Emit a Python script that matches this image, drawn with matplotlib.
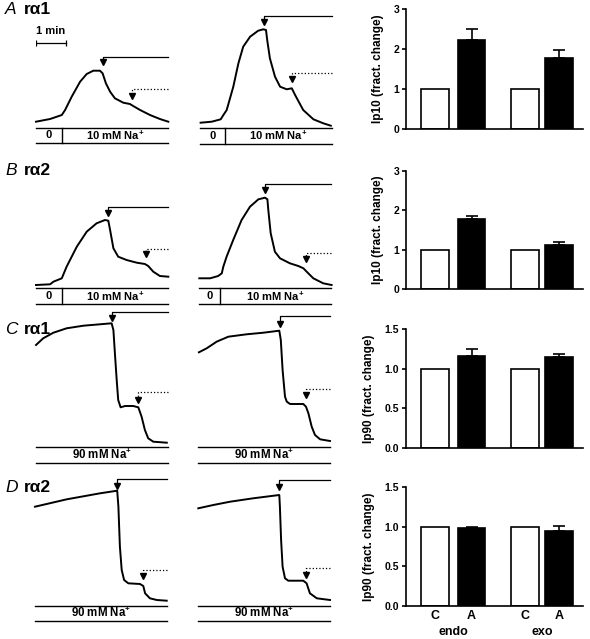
import numpy as np
import matplotlib
matplotlib.use("Agg")
import matplotlib.pyplot as plt

plt.rcParams['font.family'] = ['Liberation Sans', 'DejaVu Sans']
plt.rcParams['mathtext.fontset'] = 'custom'
plt.rcParams['mathtext.rm'] = 'Liberation Sans'
plt.rcParams['mathtext.bf'] = 'Liberation Sans:bold'
plt.rcParams['mathtext.it'] = 'Liberation Sans:italic'

W, H = 590, 639

# ---- traces (time in min, signal in arbitrary units) ----
tA1 = [0, 0.47, 0.86, 0.97, 1.19, 1.47, 1.69, 1.91, 2.13, 2.22, 2.33, 2.47, 2.63, 2.91, 3.13, 3.24, 3.47, 3.80, 4.13, 4.41]
vA1 = [0.60, 0.87, 1.27, 1.77, 3.10, 4.60, 5.37, 5.70, 5.70, 5.44, 4.44, 3.60, 2.94, 2.50, 2.37, 2.17, 1.77, 1.27, 0.87, 0.60]
tA2 = [0.02, 0.39, 0.69, 0.78, 0.89, 1.11, 1.28, 1.44, 1.67, 1.94, 2.11, 2.20, 2.24, 2.33, 2.50, 2.67, 2.89, 3.06, 3.17, 3.44, 3.78, 4.11, 4.36]
vA2 = [0.50, 0.60, 0.84, 1.27, 1.77, 4.10, 6.44, 8.10, 9.10, 9.70, 9.84, 9.77, 8.77, 6.94, 5.10, 4.10, 3.84, 3.94, 3.27, 1.77, 0.84, 0.44, 0.20]
tB1 = [0, 0.47, 0.58, 0.86, 1.02, 1.36, 1.69, 2.02, 2.30, 2.41, 2.47, 2.58, 2.74, 3.02, 3.36, 3.63, 3.74, 3.91, 4.13, 4.41]
vB1 = [0.33, 0.40, 0.66, 1.00, 2.16, 4.16, 5.66, 6.50, 6.83, 6.76, 5.83, 4.00, 3.16, 2.83, 2.56, 2.43, 2.23, 1.66, 1.23, 1.16]
tB2 = [0, 0.36, 0.63, 0.75, 0.80, 0.91, 1.13, 1.41, 1.69, 1.97, 2.19, 2.27, 2.30, 2.38, 2.52, 2.69, 3.02, 3.30, 3.47, 3.58, 3.80, 4.13, 4.41]
vB2 = [1.00, 1.00, 1.23, 1.50, 2.16, 3.16, 4.83, 6.83, 8.16, 8.90, 9.06, 8.90, 7.83, 5.50, 3.66, 3.00, 2.50, 2.23, 2.00, 1.66, 1.00, 0.50, 0.33]
tC1 = [0, 0.24, 0.58, 1.02, 1.58, 2.13, 2.52, 2.58, 2.63, 2.69, 2.74, 2.82, 2.97, 3.24, 3.41, 3.52, 3.63, 3.74, 3.91, 4.36]
vC1 = [10.17, 10.84, 11.40, 11.84, 12.10, 12.24, 12.34, 11.67, 9.34, 6.67, 4.67, 3.94, 4.07, 4.07, 3.94, 3.00, 1.67, 0.84, 0.50, 0.40]
tC2 = [0.02, 0.28, 0.61, 1.00, 1.61, 2.17, 2.70, 2.75, 2.81, 2.89, 2.95, 3.06, 3.50, 3.59, 3.67, 3.78, 3.89, 4.06, 4.39]
vC2 = [9.50, 9.90, 10.56, 11.06, 11.30, 11.46, 11.66, 10.73, 7.73, 5.06, 4.56, 4.33, 4.33, 4.06, 3.40, 2.06, 1.23, 0.80, 0.63]
tD1 = [0, 1.06, 2.17, 2.74, 2.78, 2.83, 2.89, 2.97, 3.11, 3.50, 3.61, 3.67, 3.83, 4.06, 4.39]
vD1 = [9.90, 10.64, 11.24, 11.50, 9.90, 5.90, 3.57, 2.57, 2.24, 2.17, 1.97, 1.24, 0.74, 0.57, 0.50]
tD2 = [0, 0.50, 1.06, 1.83, 2.70, 2.72, 2.76, 2.81, 2.89, 3.00, 3.50, 3.61, 3.72, 3.95, 4.39]
vD2 = [9.74, 10.07, 10.40, 10.74, 11.07, 9.90, 6.57, 3.90, 2.74, 2.50, 2.50, 2.24, 1.24, 0.74, 0.57]

# application times (min): [time, line level, arrow tip] for first (solid) and second (dotted) arrow
arrows1 = [[2.24, 7.07, 6.27], [2.13, 11.2, 10.27], [2.41, 8.16, 7.23], [2.19, 10.43, 9.5],
           [2.53, 13.47, 12.57], [2.72, 13.13, 12.03], [2.74, 12.67, 11.67], [2.70, 12.57, 11.57]]
arrows2 = [[3.2, 3.87, 2.87], [3.06, 5.5, 4.6], [3.67, 3.9, 3.1], [3.56, 3.5, 2.66],
           [3.41, 5.44, 4.4], [3.59, 5.8, 4.9], [3.59, 3.57, 2.64], [3.59, 3.74, 2.74]]
# time of switch from 0 to 10 mM Na+ (None: 90 mM throughout)
switch = [0.87, 0.83, 0.86, 0.69, None, None, None, None]

traces = [(tA1, vA1), (tA2, vA2), (tB1, vB1), (tB2, vB2), (tC1, vC1), (tC2, vC2), (tD1, vD1), (tD2, vD2)]
# pixel anchors of each panel: left edge, y of protocol bar, bar thickness
panel_px = [(36, 127.7, 1.56), (200, 127.7, 1.6), (36, 288.3, 1.57), (199.3, 288.3, 1.6),
            (36, 446.7, 1.6), (198.3, 447.3, 1.54), (35, 605.7, 1.5), (198.3, 605.7, 1.5)]

# ---- bar data ----
groups = ['C', 'A', 'C', 'A']
ratio_A = [1, 2.24, 1, 1.79]
err_A = [0, 0.26, 0, 0.20]
ratio_B = [1, 1.79, 1, 1.12]
err_B = [0, 0.07, 0, 0.08]
ratio_C = [1, 1.16, 1, 1.15]
err_C = [0, 0.09, 0, 0.04]
ratio_D = [1, 0.98, 1, 0.95]
err_D = [0, 0.02, 0, 0.06]

fig = plt.figure(figsize=(W / 100, H / 100), dpi=100)


def px_axes(x, ytop, w, h):
    return fig.add_axes([x / W, 1 - (ytop + h) / H, w / W, h / H])


TMAX = 4.4
for i, ((t, v), (x0, yb, thick)) in enumerate(zip(traces, panel_px)):
    ax = px_axes(x0, yb - 140, 132, 160)
    ax.set_xlim(0, TMAX)
    ax.set_ylim(-2, 14)
    ax.axis('off')
    ax.plot(t, v, color='black', lw=1.4, solid_joinstyle='round', clip_on=False)
    for arr, ls in ((arrows1[i], '-'), (arrows2[i], ':')):
        ta, lev, tip = arr
        ax.plot([TMAX, ta, ta], [lev, lev, tip + 0.35], color='black', lw=0.9, ls=ls, clip_on=False)
        ax.plot([ta], [tip + 0.3], marker='v', ms=5, color='black', clip_on=False)
    # protocol bar
    ax.plot([0, TMAX], [0, 0], color='black', lw=1.0, clip_on=False)
    ax.plot([0, TMAX], [-thick, -thick], color='black', lw=1.0, clip_on=False)
    sw = switch[i]
    if sw is not None:
        ax.plot([sw, sw], [0, -thick], color='black', lw=1.0)
        ax.text(sw / 2, -thick / 2, '0', ha='center', va='center', fontsize=8, fontweight='bold')
        ax.text((sw + TMAX) / 2, -thick / 2, r'10 mM Na$^{\mathbf{+}}$', ha='center', va='center',
                fontsize=8, fontweight='bold')
    else:
        ax.text(TMAX / 2, -thick / 2, r'90 mM Na$^{\mathbf{+}}$', ha='center', va='center',
                fontsize=8.3, fontweight='bold')
    if i == 0:
        ax.plot([0, 1], [8.44, 8.44], color='black', lw=0.9, marker='|', ms=5, mew=0.9)
        ax.text(0.5, 9.2, '1 min', ha='center', va='bottom', fontsize=8, fontweight='bold')

# panel labels
for lab, name, y in [('A', 'rα1', 10), ('B', 'rα2', 170), ('C', 'rα1', 329), ('D', 'rα2', 488)]:
    fig.text(5 / W, 1 - y / H, lab, fontsize=12.5, fontstyle='italic', va='center')
    fig.text(24 / W, 1 - y / H, name, fontsize=12.5, fontweight='bold', va='center')

# ---- bar charts ----
pos = [1.04, 2.34, 4.25, 5.46]
colors = ['white', 'black', 'white', 'black']
bar_rows = [(ratio_A, err_A, 9.3, 129, 3, [0, 1, 2, 3], 'Ip10 (fract. change)', '{:.0f}'),
            (ratio_B, err_B, 170.7, 289.3, 3, [0, 1, 2, 3], 'Ip10 (fract. change)', '{:.0f}'),
            (ratio_C, err_C, 329.3, 447.7, 1.5, [0, 0.5, 1.0, 1.5], 'Ip90 (fract. change)', '{:.1f}'),
            (ratio_D, err_D, 487.3, 606, 1.5, [0, 0.5, 1.0, 1.5], 'Ip90 (fract. change)', '{:.1f}')]
for k, (vals, errs, ytop, ybot, ymax, yt, ylab, fmt) in enumerate(bar_rows):
    ax = px_axes(406, ytop, 177, ybot - ytop)
    ax.bar(pos, vals, width=0.98, color=colors, edgecolor='black', lw=1.2, zorder=2)
    for p, val, e in zip(pos, vals, errs):
        if e > 0:
            ax.errorbar(p, val, yerr=[[0], [e]], color='black', capsize=4.5, elinewidth=1.2,
                        capthick=1.2, zorder=1)
    ax.set_xlim(0, 6.32)
    ax.set_ylim(0, ymax)
    ax.set_yticks(yt, [fmt.format(y) for y in yt])
    for s in ('top', 'right'):
        ax.spines[s].set_visible(False)
    ax.spines['left'].set_linewidth(1.2)
    ax.spines['bottom'].set_linewidth(1.2)
    ax.tick_params(axis='y', length=3, width=1.2, labelsize=7.5, pad=2)
    for lbl in ax.get_yticklabels():
        lbl.set_fontweight('bold')
    ax.set_ylabel(ylab, fontsize=8.5, fontweight='bold', labelpad=7)
    if k == 3:
        ax.set_xticks(pos, groups)
        ax.tick_params(axis='x', length=0, labelsize=9, pad=3)
        for lbl in ax.get_xticklabels():
            lbl.set_fontweight('bold')
        tr = ax.get_xaxis_transform()
        ax.text((pos[0] + pos[1]) / 2, -0.22, 'endo', transform=tr, ha='center', va='center',
                fontsize=9, fontweight='bold')
        ax.text((pos[2] + pos[3]) / 2, -0.22, 'exo', transform=tr, ha='center', va='center',
                fontsize=9, fontweight='bold')
    else:
        ax.set_xticks([])

fig.savefig('out.png', dpi=100)
